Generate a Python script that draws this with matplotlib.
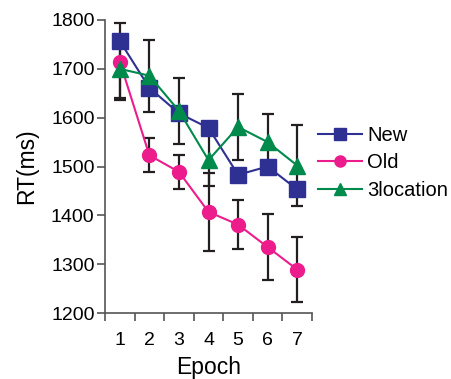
import numpy as np
import matplotlib
matplotlib.use('Agg')
import matplotlib.pyplot as plt

plt.rcParams['font.family'] = ['Liberation Sans', 'DejaVu Sans']

# data
epochs = [1, 2, 3, 4, 5, 6, 7]
rt_new = [1757, 1661, 1609, 1579, 1483, 1500, 1453]
rt_old = [1715, 1523, 1489, 1407, 1381, 1335, 1289]
rt_3loc = [1700, 1686, 1614, 1513, 1581, 1550, 1502]
err_old = [78, 35, 35, 80, 50, 67, 67]
err_3loc = [60, 74, 68, 52, 67, 57, 83]

c_new = '#2e3192'
c_old = '#ec1c8c'
c_3loc = '#008a4b'

fig = plt.figure(figsize=(4.51, 3.79), dpi=100)
ax = fig.add_axes([105 / 451, 1 - 313 / 379, 207 / 451, 293 / 379])

ebkw = dict(fmt='none', ecolor='#231f20', elinewidth=1.6, capsize=4.3, capthick=1.6, zorder=1)
ax.errorbar(epochs, rt_old, yerr=err_old, **ebkw)
ax.errorbar(epochs, rt_3loc, yerr=err_3loc, **ebkw)

ax.plot(epochs, rt_new, color=c_new, marker='s', markersize=11, lw=1.5, label='New', zorder=3)
ax.plot(epochs, rt_old, color=c_old, marker='o', markersize=10, lw=1.5, label='Old', zorder=3)
ax.plot(epochs, rt_3loc, color=c_3loc, marker='^', markersize=11, lw=1.5, label='3location', zorder=3)

ax.set_xlim(0.5, 7.5)
ax.set_ylim(1200, 1800)
ax.set_yticks(range(1200, 1801, 100))
ax.set_xticks(epochs)
ax.set_xticks(np.arange(0.5, 8, 1), minor=True)
ax.tick_params(axis='x', which='major', length=0, pad=14, labelsize=14)
ax.tick_params(axis='x', which='minor', length=5.5, width=1.2, direction='out', color='#555555')
ax.tick_params(axis='y', length=5.5, width=1.2, direction='out', color='#555555', labelsize=14, pad=2)

for s in ['top', 'right']:
    ax.spines[s].set_visible(False)
for s in ['left', 'bottom']:
    ax.spines[s].set_color('#555555')
    ax.spines[s].set_linewidth(1.2)

ax.set_xlabel('Epoch', fontsize=16.5, labelpad=5)
ax.set_ylabel('RT(ms)', fontsize=16.5, labelpad=9)

ax.legend(loc='center left', bbox_to_anchor=(318 / 451, 1 - 163 / 379), bbox_transform=fig.transFigure,
          frameon=False, fontsize=14.5, handlelength=2.2, handletextpad=0.25, labelspacing=0.42,
          borderpad=0, borderaxespad=0, markerscale=0.8)

fig.savefig('out.png', dpi=100)
